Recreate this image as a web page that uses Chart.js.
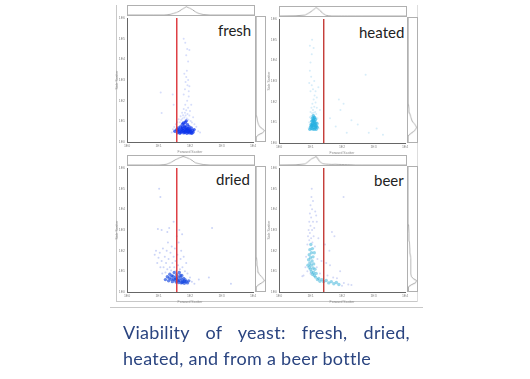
<!DOCTYPE html>
<html>
<head>
<meta charset="utf-8">
<script src="https://cdn.jsdelivr.net/npm/chart.js@4"></script>
<style>
body { margin:0; background:#fff; width:530px; height:379px; overflow:hidden; position:relative; font-family:Lato,"Noto Sans",sans-serif; }
canvas { position:absolute; filter:blur(0.6px); }
.rule { position:absolute; background:#c8c8c8; }
.name { position:absolute; font-size:15px; color:#222; line-height:18px; }
#caption { position:absolute; left:123px; top:319px; width:287px; font-size:18px; letter-spacing:0.3px; line-height:26px; color:#2a4480; filter:blur(0.3px); }
#caption span { display:block; white-space:nowrap; }
#caption .first { text-align:justify; text-align-last:justify; white-space:normal; }
</style>
</head>
<body>
<div class="rule" style="left:116px;top:5px;width:1px;height:297px"></div>
<div class="rule" style="left:116px;top:301px;width:301px;height:1px"></div>
<div class="rule" style="left:417px;top:5px;width:1px;height:297px;background:#ddd"></div>
<div class="rule" style="left:110px;top:307px;width:313px;height:1px"></div>
<div class="name" style="left:218px;top:21px">fresh</div>
<div class="name" style="left:359px;top:23px">heated</div>
<div class="name" style="left:216px;top:170px">dried</div>
<div class="name" style="left:374px;top:171px">beer</div>
<div id="caption"><span class="first">Viability of yeast: fresh, dried,</span><span>heated, and from a beer bottle</span></div>
<script>
const xTicks = ['1E0','1E1','1E2','1E3','1E4']
const yTicks = ['1E0','1E1','1E2','1E3','1E4','1E5','1E6']
const xTitle = 'Forward Scatter'
const yTitle = 'Side Scatter'

const freshGate = 1.58
const heatedGate = 1.42
const driedGate = 1.58
const beerGate = 1.42

// x, y, in axis units (x 0-4, y 0-6)
const freshCore = [[1.52,0.52],[1.58,0.6],[1.6,0.45],[1.63,0.68],[1.66,0.52],[1.68,0.42],[1.7,0.74],[1.72,0.6],[1.74,0.5],[1.76,0.86],[1.78,0.66],[1.8,0.44],[1.8,0.55],[1.82,0.78],[1.84,0.62],[1.85,0.94],[1.86,0.5],[1.88,0.7],[1.9,0.42],[1.9,0.58],[1.92,0.84],[1.94,0.66],[1.95,0.5],[1.97,0.74],[1.98,0.44],[2,0.6],[2.02,0.52],[2.04,0.68],[2.06,0.42],[2.08,0.56],[2.1,0.48],[2.13,0.6],[1.65,0.6],[1.75,0.72],[1.83,0.47],[1.87,0.56],[1.93,0.48],[1.99,0.54],[1.7,0.47],[1.77,0.55],[1.84,0.72],[1.91,0.62],[1.79,0.92],[1.88,1.02],[1.74,0.63],[2.03,0.44],[1.6,0.54],[1.96,0.58]]
const freshCloud = [[1.42,0.46],[1.46,0.62],[1.5,0.72],[1.55,0.86],[1.6,0.96],[1.64,1.1],[1.68,0.96],[1.7,1.24],[1.72,1.06],[1.75,1.42],[1.76,1.14],[1.78,1.3],[1.8,1.6],[1.82,1.18],[1.84,1.42],[1.85,1.8],[1.86,1.28],[1.88,1.54],[1.9,1.14],[1.91,2],[1.92,1.36],[1.94,1.66],[1.95,1.08],[1.96,2.2],[1.98,1.28],[2,1.5],[2.02,1.02],[2.04,1.8],[2.06,0.94],[2.1,1.2],[2.14,0.86],[2.2,0.74],[2.26,0.52],[2.32,0.46],[1.8,2.3],[1.84,2.55],[1.86,2.9],[1.88,3.15],[1.9,3.45],[1.92,2.75],[1.94,3],[1.96,2.45],[1.82,3.3],[1.98,2.7],[1.88,4.2],[1.94,3.9],[1.85,4.8],[1.8,5],[1.91,4.5],[1.98,4.45],[1.07,2.4],[1.1,1.4],[1.45,2.3],[1.48,1.8]]

const heatedCore = [[0.98,0.66],[1,0.78],[1.02,0.9],[1.03,0.7],[1.04,1.05],[1.05,0.82],[1.06,1.2],[1.07,0.68],[1.08,0.96],[1.09,1.32],[1.1,0.76],[1.1,1.1],[1.12,0.88],[1.12,0.66],[1.13,1.24],[1.14,1],[1.15,0.74],[1.16,1.14],[1.17,0.86],[1.18,0.66],[1.2,0.96],[1.21,0.76],[1.06,0.92],[1.09,0.84],[1.12,1.04],[1.15,0.92],[1.18,0.8],[1.03,0.84],[1.07,1.08],[1.11,1.2]]
const heatedCloud = [[0.94,0.72],[0.96,1],[0.98,1.24],[1,1.5],[1.02,1.3],[1.03,1.7],[1.05,1.44],[1.06,1.9],[1.08,1.6],[1.1,1.46],[1.1,2.1],[1.12,1.76],[1.13,2.3],[1.15,1.5],[1.16,1.96],[1.18,1.4],[1.2,1.7],[1.22,1.2],[1.24,0.9],[1.26,0.7],[1,2.5],[1.04,2.8],[1.02,3.2],[0.98,3.5],[0.96,2.9],[1,3.9],[1.04,4.3],[1.08,2.6],[1.12,3],[1.16,2.5],[1.2,2.2],[1.25,2.7],[1.05,5],[1.1,4.6],[0.98,4.7],[1.3,1.6],[1.62,1.2],[1.8,0.8],[1.95,1.6],[2.05,1.9],[2.15,0.5],[2.3,1.1],[2.5,0.9],[2.75,3.3],[2.85,0.5],[3.1,0.7],[3.3,0.4],[1.9,2.1]]

const driedCore = [[1.22,0.6],[1.28,0.74],[1.32,0.54],[1.36,0.86],[1.4,0.62],[1.44,0.5],[1.46,0.76],[1.5,0.94],[1.52,0.58],[1.54,0.7],[1.56,0.48],[1.58,0.84],[1.6,0.6],[1.62,0.72],[1.64,0.46],[1.66,0.94],[1.68,0.56],[1.7,0.68],[1.72,0.44],[1.74,0.8],[1.76,0.58],[1.78,0.5],[1.8,0.66],[1.82,0.42],[1.85,0.58],[1.88,0.5],[1.92,0.44],[1.96,0.54],[1.34,0.68],[1.42,0.78],[1.48,0.62],[1.57,0.64],[1.63,0.54],[1.69,0.8],[1.75,0.46],[1.83,0.52]]
const driedCloud = [[0.88,1.8],[0.92,2],[0.96,1.4],[1,1.66],[1.04,1.9],[1.06,1.2],[1.1,1.5],[1.12,0.9],[1.14,2.1],[1.16,1.2],[1.2,1.7],[1.22,0.94],[1.24,1.4],[1.26,2],[1.28,1.1],[1.3,2.4],[1.32,1.6],[1.36,1.2],[1.38,1.9],[1.4,1.04],[1.42,2.2],[1.44,1.4],[1.48,1.7],[1.5,1.2],[1.52,2.1],[1.54,1.5],[1.56,1.02],[1.6,1.8],[1.62,1.3],[1.64,2.4],[1.68,1.1],[1.7,1.6],[1.72,2],[1.76,1.2],[1.8,1.7],[1.84,1],[1.88,1.4],[1.92,0.9],[2,0.7],[2.06,0.5],[2.14,0.4],[1.1,3],[1.28,2.9],[1.34,3.1],[1.48,3.4],[1.66,3],[1.58,2.7],[1.02,5],[1.06,4.6],[0.98,3.05],[2.28,0.6],[2.6,0.7],[3.3,0.4],[2.7,3.1],[1.75,2.8]]

const beerCore = [[0.92,1.3],[0.94,1.56],[0.96,1.2],[0.96,1.8],[0.98,1.4],[0.98,2.05],[1,1.1],[1,1.66],[1.01,2.3],[1.02,1.3],[1.03,0.98],[1.03,1.9],[1.05,1.5],[1.06,0.86],[1.06,2.1],[1.08,1.16],[1.08,1.7],[1.1,0.94],[1.1,1.36],[1.12,0.8],[1.12,1.9],[1.14,1.1],[1.16,0.72],[1.18,0.9],[1.22,0.6],[1.26,0.66],[1.3,0.52],[1.36,0.6],[1.42,0.5],[1.5,0.56],[1.58,0.44],[1.66,0.5],[1.74,0.4],[1.82,0.46],[1.9,0.36]]
const beerCloud = [[0.84,1.2],[0.86,1.7],[0.9,1],[0.9,2.3],[0.92,2.7],[0.94,3],[0.96,2.5],[0.96,3.4],[0.98,2.85],[0.98,3.8],[1,3.2],[1,4.2],[1.02,2.6],[1.02,3.6],[1.03,4.6],[1.04,5],[1.05,3],[1.05,4],[1.06,2.4],[1.08,3.4],[1.08,4.4],[1.1,2.7],[1.12,3.1],[1.14,2.2],[1.15,3.9],[1.18,3.7],[1.2,3.4],[1.22,1.6],[1.25,2.6],[0.78,0.8],[0.74,0.76],[1,0.9],[1.2,1.2],[1.3,0.9],[1.35,1.5],[1.46,2.3],[1.5,1.4],[1.54,0.8],[1.62,1.3],[1.68,2.9],[1.72,0.7],[1.76,2.7],[1.84,0.66],[1.94,1],[2,0.3],[2.06,0.44],[2.2,0.36],[2.3,0.34],[2.05,4.6],[1.6,2]]

// histogram shapes, 0-1 of the strip height
const topPos = [0,0.5,0.8,1,1.15,1.25,1.35,1.45,1.55,1.65,1.75,1.85,1.95,2.05,2.15,2.25,2.4,2.6,4]
const freshTop = [0,0,0,0,0,0.02,0.08,0.18,0.32,0.5,0.74,0.98,0.82,0.6,0.36,0.16,0.04,0,0]
const driedTop = [0,0,0,0,0.04,0.1,0.28,0.5,0.68,0.88,1,0.9,0.72,0.5,0.24,0.14,0.04,0,0]
const heatedTop = [0,0.02,0.1,0.55,1,0.72,0.34,0.08,0.02,0,0,0,0,0,0,0,0,0,0]
const beerTop = [0,0.02,0.12,0.72,1,0.46,0.14,0.1,0.08,0.06,0.08,0.06,0.05,0.04,0.03,0.02,0,0,0]

const sidePos = [0,0.2,0.3,0.4,0.5,0.6,0.7,0.8,0.9,1,1.2,1.4,1.6,1.8,2,2.4,2.8,3.2,6]
const freshSide = [0,0.02,0.3,0.8,1,0.7,0.42,0.3,0.2,0.14,0.08,0.05,0.03,0.02,0.01,0,0,0,0]
const driedSide = [0,0.02,0.3,0.7,1,0.84,0.62,0.4,0.28,0.2,0.14,0.1,0.06,0.04,0.02,0.01,0,0,0]
const heatedSide = [0,0,0.02,0.3,0.62,0.88,1,0.9,0.7,0.5,0.34,0.18,0.1,0.06,0.04,0.02,0.01,0,0]
const beerSide = [0,0.04,0.4,0.9,1,0.6,0.4,0.36,0.34,0.32,0.34,0.36,0.3,0.24,0.2,0.14,0.1,0.06,0]

const panels = [
  { left:127, top:16, core:freshCore, cloud:freshCloud, gate:freshGate, topH:freshTop, sideH:freshSide, coreColor:'rgba(10,50,235,0.7)', cloudColor:'rgba(70,100,235,0.22)', lineColor:'#dc3338' },
  { left:279, top:17, core:heatedCore, cloud:heatedCloud, gate:heatedGate, topH:heatedTop, sideH:heatedSide, coreColor:'rgba(35,175,225,0.65)', cloudColor:'rgba(110,190,235,0.28)', lineColor:'#c43a36' },
  { left:127, top:166, core:driedCore, cloud:driedCloud, gate:driedGate, topH:driedTop, sideH:driedSide, coreColor:'rgba(20,70,225,0.65)', cloudColor:'rgba(70,100,225,0.28)', lineColor:'#dc3338' },
  { left:279, top:166, core:beerCore, cloud:beerCloud, gate:beerGate, topH:beerTop, sideH:beerSide, coreColor:'rgba(50,175,215,0.5)', cloudColor:'rgba(110,130,225,0.3)', lineColor:'#c43a36' }
]

const plotW = 128
const plotH = 126
const marginL = 12
const marginB = 12
const pad = 2

function addCanvas(left, top, w, h){
  const c = document.createElement('canvas')
  c.style.left = left + 'px'
  c.style.top = top + 'px'
  c.style.width = w + 'px'
  c.style.height = h + 'px'
  c.width = w
  c.height = h
  document.body.appendChild(c)
  return c
}

function mainChart(p){
  const canvas = addCanvas(p.left - marginL, p.top - pad, plotW + marginL + pad, plotH + marginB + pad)
  const tickFont = { size:3.5, family:'"Liberation Sans"' }
  new Chart(canvas, {
    type: 'scatter',
    data: {
      datasets: [
        { data: [{x:p.gate,y:0},{x:p.gate,y:6}], showLine:true, borderColor:p.lineColor, borderWidth:1.4, pointRadius:0, order:0 },
        { data: p.core.map(d => ({x:d[0],y:d[1]})), backgroundColor:p.coreColor, pointRadius:1.7, pointBorderWidth:0, order:1 },
        { data: p.cloud.map(d => ({x:d[0],y:d[1]})), backgroundColor:p.cloudColor, pointRadius:1, pointBorderWidth:0, order:2 }
      ]
    },
    options: {
      responsive:false,
      animation:false,
      layout:{ padding:{ top:pad, right:pad, left:0, bottom:0 } },
      plugins:{ legend:{ display:false }, tooltip:{ enabled:false } },
      scales:{
        x:{
          min:0, max:4,
          afterFit:s => { s.height = marginB },
          grid:{ display:false, drawTicks:true, tickLength:2, tickColor:'#777' },
          border:{ color:'#666', width:1 },
          afterBuildTicks:s => { s.ticks = xTicks.map((t,i) => ({value:i})) },
          ticks:{ callback:(v,i) => xTicks[i], color:'#888', font:tickFont, padding:0, maxRotation:0, autoSkip:false },
          title:{ display:true, text:xTitle, color:'#888', font:tickFont, padding:0 }
        },
        y:{
          min:0, max:6,
          afterFit:s => { s.width = marginL },
          grid:{ display:false, drawTicks:true, tickLength:2, tickColor:'#777' },
          border:{ color:'#666', width:1 },
          afterBuildTicks:s => { s.ticks = yTicks.map((t,i) => ({value:i})) },
          ticks:{ callback:(v,i) => yTicks[i], color:'#888', font:tickFont, padding:0, autoSkip:false },
          title:{ display:true, text:yTitle, color:'#888', font:tickFont, padding:0 }
        }
      }
    }
  })
}

function stripChart(left, top, w, h, points, xMax, yMax){
  const canvas = addCanvas(left, top, w, h)
  new Chart(canvas, {
    type: 'scatter',
    data: { datasets: [{ data: points, showLine:true, borderColor:'#8a8a8a', borderWidth:0.8, pointRadius:0, tension:0 }] },
    options: {
      responsive:false,
      animation:false,
      layout:{ padding:0 },
      plugins:{ legend:{ display:false }, tooltip:{ enabled:false } },
      scales:{
        x:{ display:false, min:0, max:xMax },
        y:{ display:false, min:0, max:yMax }
      }
    }
  })
  canvas.style.border = '1px solid #b0b0b0'
  canvas.style.boxSizing = 'border-box'
}

panels.forEach(p => {
  mainChart(p)
  stripChart(p.left, p.top - 11, plotW, 11, topPos.map((v,i) => ({x:v,y:p.topH[i]})), 4, 1.05)
  stripChart(p.left + plotW, p.top, 11, plotH, sidePos.map((v,i) => ({x:p.sideH[i],y:v})), 1.05, 6)
})
</script>
</body>
</html>
